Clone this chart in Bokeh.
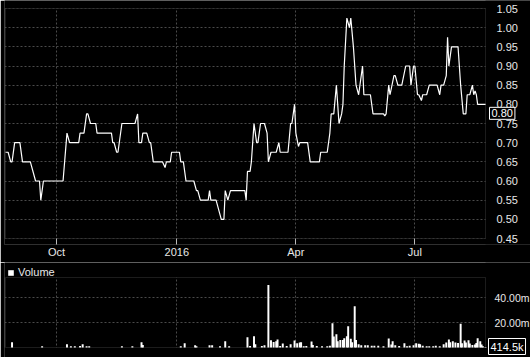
import pandas as pd
from bokeh.plotting import figure
from bokeh.layouts import column
from bokeh.models import (Range1d, FixedTicker, CustomJSTickFormatter, PrintfTickFormatter,
                          Label, BoxAnnotation, Legend, LegendItem)
from bokeh.embed import file_html
from bokeh.resources import INLINE

# ---------------- data ----------------
price_dates = [
    "2015-08-23", "2015-08-25", "2015-08-27", "2015-08-28", "2015-08-30", "2015-09-03",
    "2015-09-05", "2015-09-11", "2015-09-15", "2015-09-18", "2015-09-19", "2015-09-21",
    "2015-10-06", "2015-10-09", "2015-10-11", "2015-10-18", "2015-10-19", "2015-10-22",
    "2015-10-24", "2015-10-25", "2015-10-27", "2015-10-31", "2015-11-01", "2015-11-12",
    "2015-11-13", "2015-11-14", "2015-11-16", "2015-11-17", "2015-11-20", "2015-11-30",
    "2015-12-02", "2015-12-03", "2015-12-05", "2015-12-06", "2015-12-09", "2015-12-11",
    "2015-12-12", "2015-12-14", "2015-12-21", "2015-12-23", "2015-12-24", "2015-12-27",
    "2015-12-28", "2016-01-03", "2016-01-04", "2016-01-06", "2016-01-08", "2016-01-14",
    "2016-01-16", "2016-01-17", "2016-01-19", "2016-01-25", "2016-01-26", "2016-01-27",
    "2016-01-31", "2016-02-04", "2016-02-06", "2016-02-07", "2016-02-09", "2016-02-11",
    "2016-02-22", "2016-02-23", "2016-02-24", "2016-02-26", "2016-02-27", "2016-02-29",
    "2016-03-02", "2016-03-03", "2016-03-05", "2016-03-08", "2016-03-10", "2016-03-11",
    "2016-03-13", "2016-03-17", "2016-03-19", "2016-03-20", "2016-03-26", "2016-03-28",
    "2016-03-29", "2016-03-31", "2016-04-01", "2016-04-03", "2016-04-04", "2016-04-10",
    "2016-04-12", "2016-04-19", "2016-04-20", "2016-04-25", "2016-04-27", "2016-04-28",
    "2016-04-30", "2016-05-02", "2016-05-04", "2016-05-06", "2016-05-07", "2016-05-08",
    "2016-05-10", "2016-05-12", "2016-05-13", "2016-05-15", "2016-05-17", "2016-05-19",
    "2016-05-20", "2016-05-22", "2016-05-23", "2016-05-28", "2016-05-30", "2016-05-31",
    "2016-06-07", "2016-06-08", "2016-06-09", "2016-06-11", "2016-06-12", "2016-06-15",
    "2016-06-16", "2016-06-18", "2016-06-21", "2016-06-24", "2016-06-27", "2016-06-28",
    "2016-06-30", "2016-07-01", "2016-07-03", "2016-07-04", "2016-07-06", "2016-07-07",
    "2016-07-10", "2016-07-12", "2016-07-18", "2016-07-20", "2016-07-21", "2016-07-23",
    "2016-07-25", "2016-07-26", "2016-07-27", "2016-07-29", "2016-07-30", "2016-08-03",
    "2016-08-05", "2016-08-07", "2016-08-09", "2016-08-10", "2016-08-12", "2016-08-14",
    "2016-08-15", "2016-08-16", "2016-08-17", "2016-08-18", "2016-08-24",
]
prices = [
    0.675, 0.675, 0.65, 0.65, 0.70, 0.70,
    0.65, 0.65, 0.60, 0.60, 0.55, 0.60,
    0.60, 0.725, 0.70, 0.70, 0.725, 0.725,
    0.775, 0.775, 0.75, 0.75, 0.725, 0.725,
    0.70, 0.70, 0.675, 0.675, 0.75, 0.75,
    0.775, 0.70, 0.70, 0.725, 0.725, 0.70,
    0.70, 0.65, 0.65, 0.635, 0.65, 0.65,
    0.675, 0.675, 0.65, 0.65, 0.60, 0.60,
    0.575, 0.575, 0.55, 0.55, 0.575, 0.55,
    0.55, 0.50, 0.50, 0.575, 0.55, 0.575,
    0.575, 0.55, 0.625, 0.625, 0.65, 0.75,
    0.70, 0.70, 0.75, 0.75, 0.725, 0.65,
    0.675, 0.675, 0.70, 0.675, 0.675, 0.75,
    0.75, 0.80, 0.725, 0.69, 0.70, 0.70,
    0.65, 0.65, 0.675, 0.675, 0.725, 0.775,
    0.775, 0.85, 0.75, 0.775, 0.80, 0.90,
    1.025, 1.00, 1.025, 0.95, 0.85, 0.825,
    0.85, 0.90, 0.825, 0.825, 0.775, 0.775,
    0.775, 0.77, 0.775, 0.85, 0.825, 0.875,
    0.875, 0.85, 0.85, 0.90, 0.90, 0.85,
    0.90, 0.90, 0.825, 0.825, 0.81, 0.825,
    0.825, 0.85, 0.85, 0.825, 0.85, 0.85,
    0.875, 0.975, 0.90, 0.95, 0.95, 0.95,
    0.85, 0.775, 0.775, 0.825, 0.825, 0.85,
    0.825, 0.835, 0.825, 0.80, 0.80,
]

volume_dates = [
    "2015-08-28", "2015-09-20", "2015-10-09", "2015-10-12", "2015-10-15", "2015-10-19",
    "2015-10-21", "2015-10-24", "2015-10-26", "2015-11-20", "2015-11-28", "2015-12-05",
    "2015-12-06", "2016-01-04", "2016-01-07", "2016-01-15", "2016-01-16", "2016-01-26",
    "2016-01-28", "2016-02-03", "2016-02-07", "2016-02-10", "2016-02-24", "2016-02-26",
    "2016-02-29", "2016-03-01", "2016-03-06", "2016-03-08", "2016-03-11", "2016-03-13",
    "2016-03-15", "2016-03-17", "2016-03-18", "2016-03-20", "2016-03-22", "2016-03-25",
    "2016-03-28", "2016-03-31", "2016-04-02", "2016-04-04", "2016-04-05", "2016-04-07",
    "2016-04-09", "2016-04-13", "2016-04-14", "2016-04-17", "2016-04-21", "2016-04-25",
    "2016-04-27", "2016-04-29", "2016-04-30", "2016-05-02", "2016-05-03", "2016-05-05",
    "2016-05-07", "2016-05-08", "2016-05-10", "2016-05-11", "2016-05-13", "2016-05-14",
    "2016-05-16", "2016-05-17", "2016-05-19", "2016-05-21", "2016-05-24", "2016-05-26",
    "2016-05-29", "2016-05-31", "2016-06-03", "2016-06-07", "2016-06-11", "2016-06-13",
    "2016-06-14", "2016-06-16", "2016-06-19", "2016-06-23", "2016-06-25", "2016-06-27",
    "2016-06-30", "2016-07-02", "2016-07-04", "2016-07-05", "2016-07-07", "2016-07-10",
    "2016-07-12", "2016-07-15", "2016-07-17", "2016-07-20", "2016-07-23", "2016-07-25",
    "2016-07-27", "2016-07-28", "2016-07-30", "2016-08-01", "2016-08-03", "2016-08-05",
    "2016-08-06", "2016-08-08", "2016-08-09", "2016-08-11", "2016-08-12", "2016-08-14",
    "2016-08-16", "2016-08-17", "2016-08-18", "2016-08-20", "2016-08-21", "2016-08-22",
    "2016-08-24",
]
volume_m = [
    4.3, 1.0, 2.7, 1.0, 1.0, 1.3,
    2.7, 1.0, 1.0, 1.0, 1.0, 4.3,
    2.0, 1.0, 3.5, 1.8, 1.0, 1.8,
    1.8, 1.0, 5.0, 1.0, 8.3, 1.3,
    9.0, 2.7, 1.3, 1.8, 50.0, 5.9,
    4.5, 5.0, 6.4, 1.3, 3.2, 1.3,
    2.7, 5.6, 3.5, 4.0, 4.3, 1.0,
    1.3, 4.8, 2.0, 1.3, 1.0, 1.0,
    1.5, 19.5, 8.8, 10.7, 5.0, 6.1,
    6.1, 7.5, 9.0, 17.0, 7.0, 4.3,
    33.0, 6.0, 2.7, 1.8, 1.8, 1.8,
    1.5, 1.5, 1.5, 1.0, 7.2, 2.4,
    5.0, 1.8, 1.3, 3.5, 1.0, 1.5,
    1.8, 3.5, 3.0, 2.7, 1.5, 1.0,
    1.0, 1.0, 1.5, 1.0, 2.7, 4.0,
    6.4, 4.3, 5.0, 4.0, 3.7, 19.0,
    3.5, 5.6, 4.0, 5.9, 3.2, 2.0,
    2.4, 3.7, 7.5, 5.0, 2.4, 1.0,
    0.4145,
]

x_tick_dates = ["2015-10-01", "2016-01-01", "2016-04-01", "2016-07-01"]
price_ticks = [0.45, 0.50, 0.55, 0.60, 0.65, 0.70, 0.75, 0.80, 0.85, 0.90, 0.95, 1.00, 1.05]
price_bounds = (0.45, 1.05)
volume_ticks = [20, 40]
volume_bounds = (0, 56)
last_price_text = "0.80"
last_volume_text = "414.5k"
legend_text = "Volume"

# ---------------- styling / layout ----------------
FONT = "Liberation Sans"
TXT = "#e8e8e8"
GRID = "#4a4a4a"
FRAME = "#5c5c5c"
BG = "black"

W = 530
PLOT_W = 480          # width of the drawn chart box
PRICE_H = 230         # height of the price box
VOL_H = 70            # height of the volume box

px = pd.to_datetime(price_dates)
vx = pd.to_datetime(volume_dates)
x0 = float(px[0].value // 10**6)
x1 = float(px[-1].value // 10**6)
tick_ms = [float(t.value // 10**6) for t in pd.to_datetime(x_tick_dates)]

# frame spans from x=4 to the right edge of the canvas; the chart box occupies 480 px of it
frame_w = W - 4
kx = PLOT_W / (x1 - x0)
x_range = Range1d(x0 - 1 / kx, x0 - 1 / kx + frame_w / kx)

month_fmt = CustomJSTickFormatter(code="""
const d = new Date(tick);
const m = d.getUTCMonth();
const names = ["Jan","Feb","Mar","Apr","May","Jun","Jul","Aug","Sep","Oct","Nov","Dec"];
return m == 0 ? String(d.getUTCFullYear()) : names[m];
""")


def cover(f, **kw):
    f.add_layout(BoxAnnotation(fill_color=BG, fill_alpha=1, line_color=None,
                               level="underlay", **kw))


def style_common(f, ybounds, standoff, size):
    f.background_fill_color = BG
    f.border_fill_color = BG
    f.outline_line_color = None
    for g in (f.xgrid, f.ygrid):
        g.grid_line_color = GRID
        g.grid_line_dash = "2 2"
        g.grid_line_width = 1
    ax = f.yaxis[0]
    ax.fixed_location = x1
    ax.axis_line_color = None
    ax.major_tick_line_color = None
    ax.minor_tick_line_color = None
    ax.major_label_text_color = TXT
    ax.major_label_text_font = FONT
    ax.major_label_text_font_size = size
    ax.major_label_standoff = standoff
    # hide grid lines outside the chart box
    cover(f, left=x1)
    cover(f, bottom=ybounds[1])
    cover(f, top=ybounds[0])
    # chart box outline
    f.add_layout(BoxAnnotation(left=x0, right=x1, bottom=ybounds[0], top=ybounds[1],
                               fill_alpha=0, line_color=FRAME, line_width=1, level="underlay"))


# ---------------- price panel ----------------
# frame: canvas y 0..244; price box: y 8..238
ky = PRICE_H / (price_bounds[1] - price_bounds[0])
p = figure(width=W, height=262, x_axis_type="datetime", y_axis_location="right",
           x_range=x_range,
           y_range=Range1d(price_bounds[0] - 6 / ky, price_bounds[1] + 8 / ky),
           output_backend="svg", toolbar_location=None,
           min_border_left=4, min_border_right=0, min_border_top=0, min_border_bottom=18)
style_common(p, price_bounds, 5, "11px")
xt = FixedTicker(ticks=tick_ms)
p.xaxis.ticker = xt
p.xgrid.ticker = xt
p.xaxis.formatter = month_fmt
p.xaxis.axis_line_color = None
p.xaxis.major_tick_in = 6
p.xaxis.major_tick_out = 0
p.xaxis.major_tick_line_color = "#bbbbbb"
p.xaxis.minor_tick_line_color = None
p.xaxis.major_label_text_color = TXT
p.xaxis.major_label_text_font = FONT
p.xaxis.major_label_text_font_size = "11px"
p.xaxis.major_label_standoff = 1
yt = FixedTicker(ticks=price_ticks)
p.yaxis.ticker = yt
p.ygrid.ticker = yt
p.yaxis.formatter = PrintfTickFormatter(format="%.2f")

p.line(px, prices, line_color="white", line_width=1.2)

p.add_layout(Label(x=PLOT_W + 5, x_units="screen", y=prices[-1], y_units="data", y_offset=-3,
                   text=last_price_text, text_baseline="top", text_align="left",
                   text_color="white", text_font=FONT, text_font_size="11px",
                   background_fill_color=BG, border_line_color="white", border_line_width=1,
                   padding=2))

# ---------------- volume panel ----------------
# frame: canvas y 262..357; volume box: y 277..347
kv = VOL_H / (volume_bounds[1] - volume_bounds[0])
v = figure(width=W, height=95, x_axis_type="datetime", y_axis_location="right",
           x_range=x_range,
           y_range=Range1d(volume_bounds[0] - 10 / kv, volume_bounds[1] + 15 / kv),
           output_backend="svg", toolbar_location=None,
           min_border_left=4, min_border_right=0, min_border_top=0, min_border_bottom=0)
style_common(v, volume_bounds, 3, "10.5px")
v.xaxis.ticker = xt
v.xgrid.ticker = xt
v.xaxis.visible = False
vt = FixedTicker(ticks=volume_ticks)
v.yaxis.ticker = vt
v.ygrid.ticker = vt
v.yaxis.formatter = PrintfTickFormatter(format="%.2fm")

bars = v.vbar(x=vx, top=volume_m, width=1.5 * 86400000, color="white", line_width=0)

v.add_layout(Label(x=PLOT_W + 4, x_units="screen", y=11, y_units="screen",
                   text=last_volume_text, text_baseline="middle", text_align="left",
                   text_color="white", text_font=FONT, text_font_size="11px",
                   background_fill_color=BG, border_line_color="white", border_line_width=1,
                   padding=2))
v.add_layout(Legend(items=[LegendItem(label=legend_text, renderers=[bars])],
                    location=(3, 79), orientation="horizontal", padding=0, margin=0,
                    glyph_width=7, glyph_height=7, label_height=12, label_standoff=4,
                    label_text_color=TXT, label_text_font=FONT, label_text_font_size="11px",
                    border_line_color=None, background_fill_alpha=0))

layout = column(p, v, spacing=0)
open("out.html", "w").write(file_html(layout, INLINE))
